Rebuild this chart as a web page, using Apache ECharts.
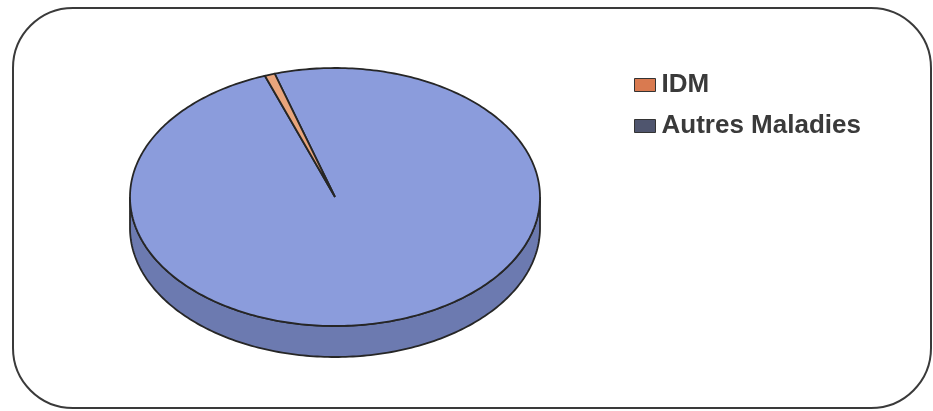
<!DOCTYPE html>
<html>
<head>
<meta charset="utf-8">
<script src="https://cdn.jsdelivr.net/npm/echarts@6/dist/echarts.min.js"></script>
<style>
html,body{margin:0;padding:0;background:#fff;}
#c{width:933px;height:411px;}
</style>
</head>
<body>
<div id="c"></div>
<script>
const categories = ['IDM', 'Autres Maladies'];
const values = [0.8, 99.2];
const topColors = ['#e9a57c', '#8b9cdc'];
const sideColors = ['#b8703f', '#6c7ab0'];
const legendColors = ['#d97a50', '#4f556e'];

const total = values.reduce((a, b) => a + b, 0);
const ranges = [];
let acc = 0;
values.forEach(v => { ranges.push([acc / total, (acc + v) / total]); acc += v; });

const CX = 335, CY = 197, RX = 205, RY = 129, DEPTH = 31, START = -20;

function pt(deg, dy) {
  const r = deg * Math.PI / 180;
  return [CX + RX * Math.sin(r), CY - RY * Math.cos(r) + dy];
}
function arc(a0, a1, dy) {
  const pts = [];
  const n = Math.max(2, Math.ceil(Math.abs(a1 - a0)));
  for (let i = 0; i <= n; i++) pts.push(pt(a0 + (a1 - a0) * i / n, dy));
  return pts;
}

function makeRender(idx) {
  return function (params, api) {
    const a0 = START + api.value(0) * 360;
    const a1 = START + api.value(1) * 360;
    const children = [];
    [0, 360, -360].forEach(off => {
      const lo = Math.max(a0, 90 + off), hi = Math.min(a1, 270 + off);
      if (hi > lo) {
        const pts = arc(lo, hi, 0).concat(arc(hi, lo, DEPTH));
        children.push({
          type: 'polygon',
          shape: { points: pts },
          style: { fill: sideColors[idx], stroke: '#262626', lineWidth: 1.8 }
        });
      }
    });
    const topPts = [[CX, CY]].concat(arc(a0, a1, 0));
    children.push({
      type: 'polygon',
      shape: { points: topPts },
      style: { fill: topColors[idx], stroke: '#262626', lineWidth: 1.8 }
    });
    return { type: 'group', children: children };
  };
}

const order = [1, 0];
const series = order.map(i => ({
  type: 'custom',
  name: categories[i],
  coordinateSystem: 'none',
  renderItem: makeRender(i),
  itemStyle: { color: legendColors[i] },
  data: [ranges[i]],
  silent: true,
  animation: false
}));

const chart = echarts.init(document.getElementById('c'));
chart.setOption({
  backgroundColor: '#ffffff',
  animation: false,
  legend: {
    orient: 'vertical',
    left: 629,
    top: 67,
    itemWidth: 21,
    itemHeight: 13,
    itemGap: 15,
    icon: 'rect',
    selectedMode: false,
    data: categories.map((c, i) => ({
      name: c,
      itemStyle: { color: legendColors[i], borderColor: '#333', borderWidth: 1 }
    })),
    textStyle: {
      fontFamily: 'Liberation Sans, Arial, sans-serif',
      fontWeight: 'bold',
      fontSize: 26,
      color: '#3a3a3a',
      padding: [0, 0, 0, 1]
    }
  },
  graphic: [{
    type: 'rect',
    shape: { x: 13, y: 8, width: 918, height: 400, r: 60 },
    style: { fill: 'none', stroke: '#3a3a3a', lineWidth: 2 },
    silent: true,
    z: -1
  }],
  series: series
});
</script>
</body>
</html>
